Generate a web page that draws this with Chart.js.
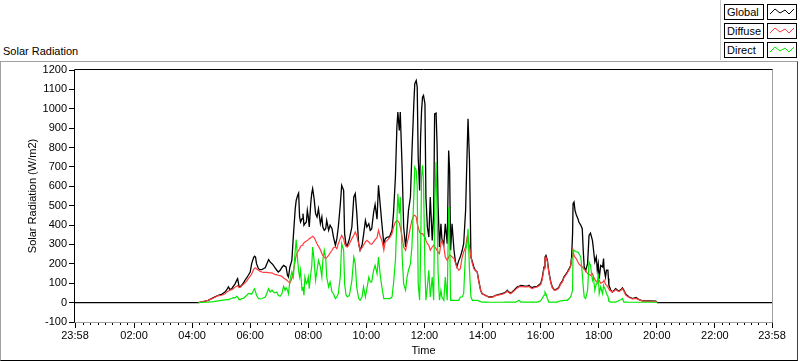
<!DOCTYPE html>
<html>
<head>
<meta charset="utf-8">
<script src="https://cdn.jsdelivr.net/npm/chart.js@4.4.1/dist/chart.umd.min.js"></script>
<style>
  body { margin: 0; background: #fff; font-family: "Liberation Sans", Arial, sans-serif; }
  #wrap { position: relative; width: 800px; height: 361px; overflow: hidden; }
  #frame {
    position: absolute; left: 0; top: 61px; width: 798px; height: 300px; box-sizing: border-box;
    border-top: 1px solid #a0a0a0; border-left: 1px solid #a0a0a0;
    border-right: 1px solid #404040; border-bottom: 1px solid #000;
  }
  #sep { position: absolute; left: 720px; top: 0; width: 1px; height: 60px; background: #c8c8c8; }
  #title { position: absolute; left: 3px; top: 45px; font-size: 11px; line-height: 13px; color: #000; }
  .lab, .smp { position: absolute; height: 16px; box-sizing: border-box; border: 1px solid #000; background: #fff; }
  .lab { left: 724px; width: 40px; font-size: 11px; line-height: 14px; padding-left: 2px; color: #000; }
  .smp { left: 767px; width: 30px; }
  canvas { position: absolute; left: 0; top: 0; }
</style>
</head>
<body>
<div id="wrap">
  <div id="frame"></div>
  <div id="sep"></div>
  <div id="title">Solar Radiation</div>
  <div class="lab" style="top:4px">Global</div>
  <svg class="smp" style="top:4px" viewBox="0 0 28 14"><polyline points="2,9 7,4 12,8 17,5 21,9 26,4" fill="none" stroke="#000" stroke-width="1"/></svg>
  <div class="lab" style="top:23px">Diffuse</div>
  <svg class="smp" style="top:23px" viewBox="0 0 28 14"><polyline points="2,9 7,4 12,8 17,5 21,9 26,4" fill="none" stroke="#ff3b3b" stroke-width="1"/></svg>
  <div class="lab" style="top:42px">Direct</div>
  <svg class="smp" style="top:42px" viewBox="0 0 28 14"><polyline points="2,9 7,4 12,8 17,5 21,9 26,4" fill="none" stroke="#00ee00" stroke-width="1"/></svg>
  <canvas id="chart" width="800" height="361"></canvas>
</div>
<script>
// Time of each sample, minutes after midnight (23:58 of the day before = -2)
const times = [-2,
  253, 263, 273, 284, 294, 301, 308, 311, 315, 318, 322, 325, 329, 332, 334, 337, 340, 342, 346, 349,
  353, 356, 360, 363, 367, 369, 371, 373, 377, 380, 384, 387, 391, 394, 398, 401, 405, 408, 411, 415,
  418, 422, 425,
  429, 432, 434, 437, 439, 442, 446, 449, 453, 455, 458, 460, 462, 464, 467, 469, 471, 473, 476, 478,
  480, 482, 485, 487, 489, 492, 495, 498, 501, 505, 508, 510, 513, 516, 518, 522, 525, 529, 532, 536,
  539, 542, 546, 549, 553, 555, 558, 561, 565, 570, 574, 577, 580, 584, 587, 591, 594, 598, 601, 605,
  608, 611, 615, 618, 622,
  625, 629, 632, 636, 639, 643, 646, 649, 653, 656, 660, 663, 665, 668, 670, 674, 677, 681, 684, 687,
  691, 694, 698, 700, 703, 705, 707, 710, 712, 714, 716, 718, 721, 723, 726, 729, 732, 736, 739, 741,
  744, 746, 748, 751, 754, 756, 760, 763, 767, 770, 772, 774, 777, 781, 784, 787, 791, 794, 798, 801,
  805, 808, 810, 813, 816, 819, 822, 825, 829,
  832, 836, 839, 846, 853, 860, 867, 874, 881, 888, 891, 894, 898, 901, 905, 908, 912, 915, 919, 926,
  932, 936, 939, 943, 946, 953, 960, 963, 967, 969, 971, 974, 977, 981, 984, 988, 991, 995, 998, 1001,
  1005, 1008, 1012, 1015, 1019, 1022, 1024, 1026, 1027,
  1029, 1031, 1034, 1037, 1039, 1043, 1046, 1048, 1050, 1053, 1057, 1060, 1063, 1067, 1069, 1072, 1075, 1077, 1079, 1081,
  1084, 1088, 1090, 1091, 1094, 1096, 1099, 1100, 1101, 1105, 1108, 1112, 1115, 1119, 1122, 1126, 1129, 1132, 1136, 1143,
  1150, 1157, 1164, 1170, 1184, 1198, 1201,
  1438];

// W/m2
const globalVals = [0,
  0, 5, 12, 26, 38, 43, 55, 64, 81, 67, 72, 84, 98, 115, 124, 82, 84, 89, 101, 115,
  129, 141, 158, 201, 232, 239, 235, 201, 175, 170, 170, 175, 180, 198, 222, 210, 201, 192, 180, 167,
  158, 167, 180,
  192, 187, 184, 141, 132, 184, 218, 338, 484, 527, 553, 565, 442, 416, 433, 459, 399, 407, 416, 476,
  442, 390, 510, 562, 588, 536, 459, 442, 484, 407, 442, 390, 373, 381, 424, 373, 399, 381, 338, 296,
  330, 390, 502, 605, 579, 356, 296, 296, 330, 390, 545, 562, 467, 304, 270, 296, 347, 424, 390, 407,
  373, 381, 467, 506, 430,
  605, 493, 407, 304, 330, 338, 338, 347, 373, 459, 648, 905, 983, 888, 983, 682, 390, 287, 373, 476,
  545, 768, 1026, 1129, 1146, 1112, 751, 579, 854, 991, 1060, 1069, 1026, 545, 390, 338, 545, 321, 459, 974,
  978, 819, 510, 287, 407, 330, 300, 407, 304, 785, 682, 270, 407, 270, 210, 185, 218, 235, 270, 304,
  476, 768, 948, 734, 235, 210, 184, 167, 158,
  115, 64, 46, 38, 29, 29, 38, 43, 46, 55, 64, 55, 50, 55, 64, 72, 81, 84, 89, 86,
  84, 89, 81, 77, 81, 84, 98, 124, 184, 235, 244, 218, 158, 107, 81, 67, 67, 72, 81, 98,
  112, 132, 146, 158, 175, 192, 235, 356, 510,
  519, 476, 450, 433, 416, 399, 381, 270, 184, 165, 201, 347, 359, 321, 278, 210, 235, 167, 200, 124,
  192, 184, 227, 175, 132, 167, 167, 124, 89, 64, 55, 64, 72, 64, 60, 67, 76, 64, 43, 29,
  21, 26, 15, 9, 9, 7, 0,
  0];

const diffuseVals = [null,
  0, 5, 12, 24, 36, 38, 46, 53, 60, 64, 67, 72, 81, 84, 88, 78, 80, 85, 95, 101,
  112, 124, 136, 148, 170, 177, 179, 175, 167, 162, 158, 156, 156, 156, 155, 153, 153, 149, 146, 143,
  141, 139, 136,
  127, 122, 119, 112, 107, 101, 124, 158, 218, 244, 261, 270, 278, 290, 296, 301, 308, 313, 318, 321,
  325, 330, 335, 338, 342, 335, 321, 304, 290, 273, 253, 244, 235, 227, 232, 244, 256, 270, 283, 287,
  278, 304, 330, 347, 330, 304, 290, 287, 304, 330, 347, 364, 347, 304, 270, 283, 296, 313, 321, 313,
  304, 301, 313, 325, 335,
  373, 338, 321, 270, 313, 321, 330, 338, 356, 390, 416, 424, 421, 411, 390, 338, 287, 270, 304, 338,
  390, 424, 450, 450, 442, 407, 390, 364, 356, 356, 356, 347, 338, 321, 304, 296, 270, 287, 296, 287,
  278, 270, 261, 253, 304, 321, 287, 235, 218, 235, 244, 244, 235, 227, 205, 182, 167, 175, 235, 261,
  287, 338, 330, 287, 235, 201, 175, 167, 158,
  112, 64, 46, 36, 29, 27, 36, 40, 43, 52, 60, 52, 46, 52, 60, 67, 76, 81, 84, 81,
  81, 84, 77, 72, 77, 81, 93, 115, 175, 232, 235, 210, 153, 101, 77, 64, 64, 69, 77, 94,
  107, 127, 141, 153, 170, 187, 227, 235, 270,
  244, 235, 225, 210, 200, 190, 185, 180, 170, 165, 150, 145, 140, 150, 135, 120, 110, 105, 110, 115,
  100, 105, 110, 115, 95, 90, 80, 75, 70, 60, 55, 60, 67, 60, 58, 64, 72, 60, 38, 26,
  19, 22, 14, 9, 7, 5, 0,
  null];

const directVals = [null,
  0, 2, 3, 5, 9, 12, 14, 15, 15, 19, 21, 26, 24, 33, 29, 15, 15, 21, 22, 29,
  38, 46, 46, 43, 64, 72, 55, 38, 21, 19, 21, 24, 29, 46, 72, 55, 64, 55, 50, 55,
  38, 33, 43,
  84, 64, 77, 64, 46, 115, 158, 132, 270, 325, 218, 167, 132, 167, 64, 81, 38, 132, 98, 107,
  132, 72, 149, 184, 287, 218, 115, 167, 218, 184, 132, 218, 270, 227, 132, 81, 107, 55, 46, 21,
  29, 46, 132, 304, 270, 98, 38, 29, 38, 115, 235, 201, 81, 21, 12, 29, 81, 29, 72, 132,
  107, 107, 167, 192, 149,
  235, 132, 81, 21, 21, 21, 21, 21, 29, 98, 218, 424, 562, 459, 545, 235, 98, 64, 132, 167,
  201, 287, 545, 699, 682, 596, 98, 12, 253, 648, 708, 631, 167, 12, 81, 167, 29, 132, 12, 476,
  725, 476, 167, 12, 64, 29, 12, 132, 12, 493, 338, 12, 12, 12, 12, 12, 12, 29, 29, 46,
  270, 304, 381, 167, 29, 12, 12, 12, 12,
  9, 5, 3, 3, 2, 2, 2, 2, 2, 3, 3, 3, 3, 3, 3, 3, 7, 12, 3, 3,
  3, 3, 3, 3, 3, 3, 9, 21, 38, 55, 46, 21, 3, 3, 3, 3, 3, 3, 7, 9,
  9, 12, 12, 12, 21, 29, 46, 64, 270,
  270, 266, 261, 261, 253, 235, 149, 81, 29, 21, 64, 210, 192, 115, 132, 64, 98, 98, 149, 46,
  81, 46, 89, 81, 64, 46, 33, 21, 7, 3, 3, 3, 3, 7, 12, 15, 21, 3, 3, 2,
  2, 2, 2, 2, 2, 2, 0,
  null];

// Axis ticks
const xMajorTicks = [-2, 120, 240, 360, 480, 600, 720, 840, 960, 1080, 1200, 1320, 1438];
const xTickLabels = ["23:58", "02:00", "04:00", "06:00", "08:00", "10:00", "12:00",
  "14:00", "16:00", "18:00", "20:00", "22:00", "23:58"];
const yMin = -100, yMax = 1200, yStep = 100;

Chart.defaults.font.family = "'Liberation Sans', Arial, sans-serif";
Chart.defaults.font.size = 11;
Chart.defaults.color = "#000";

function series(values) {
  return times.map((t, i) => ({ x: t, y: values[i] }));
}

// minor time ticks + inset frame round the plot area
const plotFrame = {
  id: "plotFrame",
  afterDatasetsDraw(chart) {
    const { ctx, chartArea: a, scales } = chart;
    ctx.save();
    ctx.lineWidth = 1;
    ctx.strokeStyle = "#000";
    ctx.beginPath();
    for (let m = 15; m < 1438; m += 15) {
      if (m % 120 === 0) continue;
      const px = Math.round(scales.x.getPixelForValue(m)) + 0.5;
      ctx.moveTo(px, a.bottom);
      ctx.lineTo(px, a.bottom + 3);
    }
    ctx.stroke();

    const l = Math.round(a.left) - 0.5, t = Math.round(a.top) - 0.5;
    const r = Math.round(a.right) + 0.5, b = Math.round(a.bottom) + 0.5;
    ctx.strokeStyle = "#a0a0a0";
    ctx.beginPath();
    ctx.moveTo(r, t); ctx.lineTo(r, b); ctx.lineTo(l, b);
    ctx.stroke();
    ctx.strokeStyle = "#000";
    ctx.beginPath();
    ctx.moveTo(l, b); ctx.lineTo(l, t); ctx.lineTo(r, t);
    ctx.stroke();
    ctx.restore();
  },
};

new Chart(document.getElementById("chart"), {
  type: "line",
  data: {
    datasets: [
      { label: "Global", data: series(globalVals), borderColor: "#000", borderWidth: 1.3, order: 3 },
      { label: "Diffuse", data: series(diffuseVals), borderColor: "#ff3b3b", order: 2 },
      { label: "Direct", data: series(directVals), borderColor: "#00e800", order: 1 },
    ],
  },
  options: {
    responsive: false,
    animation: false,
    devicePixelRatio: 1,
    layout: { padding: { top: 70, right: 28, bottom: 0, left: 0 } },
    elements: {
      line: { borderWidth: 1.2, tension: 0, fill: false },
      point: { radius: 0, hoverRadius: 0 },
    },
    plugins: { legend: { display: false }, tooltip: { enabled: false } },
    scales: {
      x: {
        type: "linear",
        min: -2,
        max: 1438,
        afterBuildTicks: (scale) => {
          scale.ticks = xMajorTicks.map((v) => ({ value: v }));
        },
        afterFit: (scale) => { scale.height = 39; },
        ticks: {
          autoSkip: false,
          maxRotation: 0,
          minRotation: 0,
          padding: 1,
          callback: (value, index) => xTickLabels[index],
        },
        grid: { drawOnChartArea: false, tickLength: 6, color: "#000" },
        border: { display: false },
        title: { display: true, text: "Time", padding: { top: 0, bottom: 3 } },
      },
      y: {
        min: yMin,
        max: yMax,
        afterFit: (scale) => { scale.width = 75; },
        ticks: { stepSize: yStep, padding: 2, callback: (value) => String(value) },
        grid: { drawOnChartArea: false, tickLength: 6, color: "#000" },
        border: { display: false },
        title: { display: true, text: "Solar Radiation (W/m2)", padding: { top: 26, bottom: 0 } },
      },
    },
  },
  plugins: [plotFrame],
});
</script>
</body>
</html>
